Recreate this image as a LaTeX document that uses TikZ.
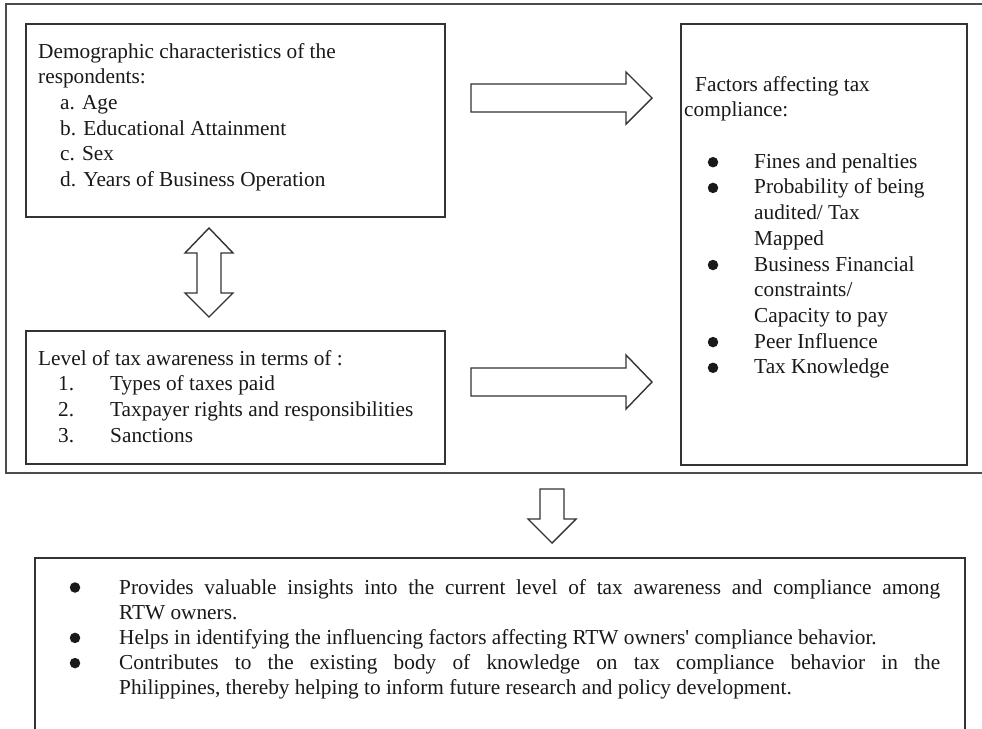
\documentclass[tikz,border=0pt]{standalone}
\usepackage{fontspec}
\setmainfont{Liberation Serif}
\begin{document}
\begin{tikzpicture}[x=1pt,y=-1pt,
  frame/.style={draw=black!70, line width=2.2pt},
  box/.style={draw=black!80, line width=1.8pt, anchor=north west, inner sep=0pt},
  txt/.style={anchor=base west, inner sep=0pt, font=\fontsize{21.3}{25.6}\selectfont, text=black!90},
  bul/.style={circle, fill=black!90, inner sep=0pt, minimum size=10.5pt},
  blockarrow/.style={draw=black!80, line width=1.4pt, line join=miter, fill=white}]
\clip (0,0) rectangle (982,728);
\fill[white] (0,0) rectangle (982,728);
% outer frame
\draw[frame] (6,4) rectangle (995,473);
% boxes
\node[box, minimum width=419pt, minimum height=193pt] (demo) at (25,23) {};
\node[box, minimum width=419pt, minimum height=133pt] (aware) at (25,330) {};
\node[box, minimum width=286pt, minimum height=441pt] (factors) at (680,23) {};
\node[box, minimum width=930pt, minimum height=200pt] (impl) at (34,557) {};
% block arrows
\draw[blockarrow] (471,84) -- (626,84) -- (626,72) -- (652,98) -- (626,124) -- (626,112) -- (471,112) -- cycle;
\draw[blockarrow] (471,368) -- (626,368) -- (626,355) -- (652,382) -- (626,409) -- (626,396) -- (471,396) -- cycle;
\draw[blockarrow] (209,228) -- (233,253) -- (221,253) -- (221,293) -- (233,293) -- (209,317) -- (185,293) -- (197,293) -- (197,253) -- (185,253) -- cycle;
\draw[blockarrow] (540,489) -- (564,489) -- (564,519) -- (576,519) -- (552,543) -- (528,519) -- (540,519) -- cycle;
% demographic box text
\node[txt] (d1) at (38,58) {Demographic characteristics of the};
\node[txt] (d2) at (38,83.7) {respondents:};
\node[txt] (d3) at (60,109.4) {a. Age};
\node[txt] (d4) at (60,135.1) {b. Educational Attainment};
\node[txt] (d5) at (60,160.8) {c. Sex};
\node[txt] (d6) at (60,186.5) {d. Years of Business Operation};
% awareness box text
\node[txt] (a1) at (38,365) {Level of tax awareness in terms of :};
\node[txt] (n1) at (58,390.7) {1.};
\node[txt] (a2) at (110,390.7) {Types of taxes paid};
\node[txt] (n2) at (58,416.4) {2.};
\node[txt] (a3) at (110,416.4) {Taxpayer rights and responsibilities};
\node[txt] (n3) at (58,442.1) {3.};
\node[txt] (a4) at (110,442.1) {Sanctions};
% factors box text
\node[txt] (f1) at (695,91) {Factors affecting tax};
\node[txt] (f2) at (684,116.7) {compliance:};
\node[txt] (f3) at (754,168.2) {Fines and penalties};
\node[txt] (f4) at (754,193.9) {Probability of being};
\node[txt] (f5) at (754,219.6) {audited/ Tax};
\node[txt] (f6) at (754,245.3) {Mapped};
\node[txt] (f7) at (754,271.0) {Business Financial};
\node[txt] (f8) at (754,296.7) {constraints/};
\node[txt] (f9) at (754,322.4) {Capacity to pay};
\node[txt] (f10) at (754,348.1) {Peer Influence};
\node[txt] (f11) at (754,373.8) {Tax Knowledge};
\node[bul] (fb1) at (713,162.2) {};
\node[bul] (fb2) at (713,187.9) {};
\node[bul] (fb3) at (713,265.0) {};
\node[bul] (fb4) at (713,342.1) {};
\node[bul] (fb5) at (713,367.8) {};
% implications box text
\node[txt] (i1) at (119,594) {\makebox[821pt][s]{Provides valuable insights into the current level of tax awareness and compliance among}};
\node[txt] (i2) at (119,619.2) {RTW owners.};
\node[txt] (i3) at (119,644.4) {Helps in identifying the influencing factors affecting RTW owners\textquotesingle\ compliance behavior.};
\node[txt] (i4) at (119,669.6) {\makebox[821pt][s]{Contributes to the existing body of knowledge on tax compliance behavior in the}};
\node[txt] (i5) at (119,694.8) {Philippines, thereby helping to inform future research and policy development.};
\node[bul] (ib1) at (75,587.5) {};
\node[bul] (ib2) at (75,637.9) {};
\node[bul] (ib3) at (75,663.1) {};
\end{tikzpicture}
\end{document}
